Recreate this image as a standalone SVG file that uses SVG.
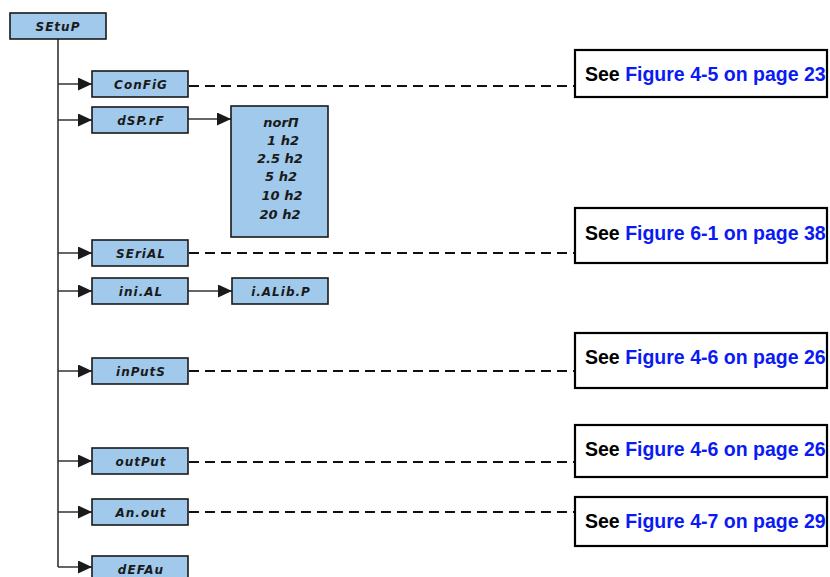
<svg xmlns="http://www.w3.org/2000/svg" width="830" height="577" viewBox="0 0 830 577">
<style>
.lcd{fill:#a0c9eb;stroke:#1a1a1a;stroke-width:1.6}
.lt{font-family:"DejaVu Sans",sans-serif;font-style:oblique;font-weight:bold;font-size:12px;letter-spacing:1px;fill:#1a1a1a;text-anchor:middle}
.ls{letter-spacing:0px;font-size:13px}
.ref{fill:#fff;stroke:#000;stroke-width:2.2}
.rt{font-family:"Liberation Sans",Arial,sans-serif;font-weight:bold;font-size:19.5px}
.blk{fill:#000}
.blu{fill:#0a1af5}
.ln{stroke:#333;stroke-width:1.6;fill:none}
.ds{stroke:#111;stroke-width:1.8;fill:none;stroke-dasharray:10 6}
</style>
<defs>
<marker id="ah" markerUnits="userSpaceOnUse" markerWidth="14" markerHeight="13" viewBox="0 0 14 13" refX="14" refY="6.5" orient="auto">
<path d="M0,0 L14,6.5 L0,13 Z" fill="#1a1a1a"/>
</marker>
</defs>
<g id="connectors">
<path class="ln" d="M58,39 V567"/>
<path class="ln" d="M58,84 H92" marker-end="url(#ah)"/>
<path class="ln" d="M58,120 H92" marker-end="url(#ah)"/>
<path class="ln" d="M188,119 H231" marker-end="url(#ah)"/>
<path class="ln" d="M58,253 H92" marker-end="url(#ah)"/>
<path class="ln" d="M58,291 H92" marker-end="url(#ah)"/>
<path class="ln" d="M188,291 H232" marker-end="url(#ah)"/>
<path class="ln" d="M58,371 H92" marker-end="url(#ah)"/>
<path class="ln" d="M58,461 H92" marker-end="url(#ah)"/>
<path class="ln" d="M58,512 H92" marker-end="url(#ah)"/>
<path class="ln" d="M58,567 H92" marker-end="url(#ah)"/>
<path class="ds" d="M189,86 H574"/>
<path class="ds" d="M189,253 H574"/>
<path class="ds" d="M189,371 H574"/>
<path class="ds" d="M189,462 H574"/>
<path class="ds" d="M189,512 H574"/>
</g>
<g id="setup"><rect class="lcd" x="10" y="13" width="96" height="26"/><text class="lt" x="58" y="31">SEtuP</text></g>
<g id="config"><rect class="lcd" x="92" y="71" width="96" height="26"/><text class="lt" x="141" y="89">ConFiG</text></g>
<g id="dsprf"><rect class="lcd" x="92" y="107" width="96" height="26"/><text class="lt" x="141" y="125">dSP.rF</text></g>
<g id="rates"><rect class="lcd" x="231" y="106" width="97" height="131"/>
<text class="lt ls" x="281" y="127">norΠ</text>
<text class="lt ls" x="283" y="145">1 h2</text>
<text class="lt ls" x="280" y="163">2.5 h2</text>
<text class="lt ls" x="281" y="181">5 h2</text>
<text class="lt ls" x="282" y="200">10 h2</text>
<text class="lt ls" x="280" y="219">20 h2</text>
</g>
<g id="serial"><rect class="lcd" x="92" y="240" width="96" height="26"/><text class="lt" x="141" y="258">SEriAL</text></g>
<g id="inial"><rect class="lcd" x="92" y="278" width="96" height="26"/><text class="lt" x="141" y="296">ini.AL</text></g>
<g id="ialib"><rect class="lcd" x="232" y="278" width="96" height="26"/><text class="lt" x="281" y="296">i.ALib.P</text></g>
<g id="inputs"><rect class="lcd" x="92" y="358" width="96" height="26"/><text class="lt" x="141" y="376">inPutS</text></g>
<g id="output"><rect class="lcd" x="92" y="448" width="96" height="26"/><text class="lt" x="141" y="466">outPut</text></g>
<g id="anout"><rect class="lcd" x="92" y="499" width="96" height="26"/><text class="lt" x="141" y="517">An.out</text></g>
<g id="defau"><rect class="lcd" x="92" y="556" width="96" height="26"/><text class="lt" x="141" y="574">dEFAu</text></g>
<g id="ref-config"><rect class="ref" x="575" y="50" width="252" height="47"/><text class="rt" x="585" y="81"><tspan class="blk">See </tspan><tspan class="blu">Figure 4-5 on page 23</tspan></text></g>
<g id="ref-serial"><rect class="ref" x="575" y="208" width="252" height="55"/><text class="rt" x="585" y="240"><tspan class="blk">See </tspan><tspan class="blu">Figure 6-1 on page 38</tspan></text></g>
<g id="ref-inputs"><rect class="ref" x="575" y="333" width="252" height="55"/><text class="rt" x="585" y="364"><tspan class="blk">See </tspan><tspan class="blu">Figure 4-6 on page 26</tspan></text></g>
<g id="ref-output"><rect class="ref" x="575" y="425" width="252" height="52"/><text class="rt" x="585" y="456"><tspan class="blk">See </tspan><tspan class="blu">Figure 4-6 on page 26</tspan></text></g>
<g id="ref-anout"><rect class="ref" x="575" y="497" width="252" height="49"/><text class="rt" x="585" y="528"><tspan class="blk">See </tspan><tspan class="blu">Figure 4-7 on page 29</tspan></text></g>
</svg>
